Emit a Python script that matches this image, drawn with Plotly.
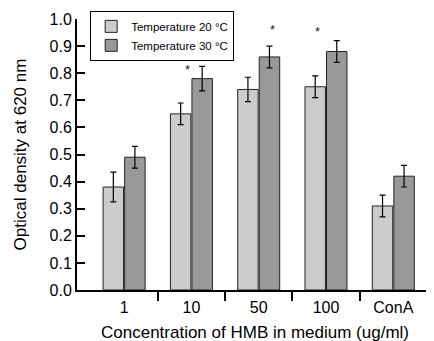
import plotly.graph_objects as go

categories = ["1", "10", "50", "100", "ConA"]
temp20 = [0.38, 0.65, 0.74, 0.75, 0.31]
temp20_err = [0.055, 0.04, 0.045, 0.04, 0.04]
temp30 = [0.49, 0.78, 0.86, 0.88, 0.42]
temp30_err = [0.04, 0.045, 0.04, 0.04, 0.04]
star_x = [0.94, 2.21, 2.88]
star_y = [0.815, 0.96, 0.955]

xidx = list(range(len(categories)))
FONT = "Liberation Sans, Arial, Helvetica, sans-serif"

fig = go.Figure()
fig.add_trace(go.Bar(
    x=xidx, y=temp20, name="Temperature 20 °C",
    marker=dict(color="#cccccc", line=dict(color="#222222", width=1)),
    error_y=dict(type="data", array=temp20_err, color="black", thickness=1.2, width=3),
))
fig.add_trace(go.Bar(
    x=xidx, y=temp30, name="Temperature 30 °C",
    marker=dict(color="#999999", line=dict(color="#222222", width=1)),
    error_y=dict(type="data", array=temp30_err, color="black", thickness=1.2, width=3),
))
# invisible trace to activate the tick axis
fig.add_trace(go.Scatter(x=[0], y=[0], xaxis="x2", mode="markers",
                         marker=dict(opacity=0), showlegend=False, hoverinfo="skip"))

for sx, sy in zip(star_x, star_y):
    fig.add_annotation(x=sx, y=sy, text="*", showarrow=False,
                       font=dict(size=13, color="#222222", family=FONT),
                       xanchor="center", yanchor="middle")

xr = [-0.70, 4.59]
fig.update_layout(
    width=434, height=341,
    margin=dict(l=69, r=9, t=11, b=59, autoexpand=False),
    paper_bgcolor="white", plot_bgcolor="white",
    font=dict(family=FONT, color="black"),
    barmode="group", bargap=0.36, bargroupgap=0.05,
    showlegend=True,
    legend=dict(x=0.037, y=1.03, xanchor="left", yanchor="top",
                bgcolor="white", bordercolor="black", borderwidth=1,
                font=dict(size=11.5), tracegroupgap=0, itemwidth=30),
    xaxis=dict(range=xr, tickmode="array", tickvals=xidx, ticktext=categories,
               ticks="", showline=True, linecolor="black", linewidth=2,
               tickfont=dict(size=16), showgrid=False, zeroline=False,
               automargin=False, ticklabelstandoff=2,
               title=dict(text="Concentration of HMB in medium (ug/ml)",
                          font=dict(size=17), standoff=11)),
    xaxis2=dict(range=xr, overlaying="x", side="bottom", tickmode="array",
                tickvals=[0.5, 1.5, 2.5, 3.5, 4.585], showticklabels=False,
                ticks="outside", ticklen=10, tickwidth=2, tickcolor="black",
                showline=False, showgrid=False, zeroline=False, automargin=False),
    yaxis=dict(range=[0, 1.0], dtick=0.1, tickformat=".1f",
               ticks="inside", ticklen=8, tickwidth=2, tickcolor="black",
               showline=True, linecolor="black", linewidth=2,
               tickfont=dict(size=16), showgrid=False, zeroline=False,
               automargin=False,
               title=dict(text="Optical density at 620 nm",
                          font=dict(size=17), standoff=19)),
)

fig.write_html("out.html")
